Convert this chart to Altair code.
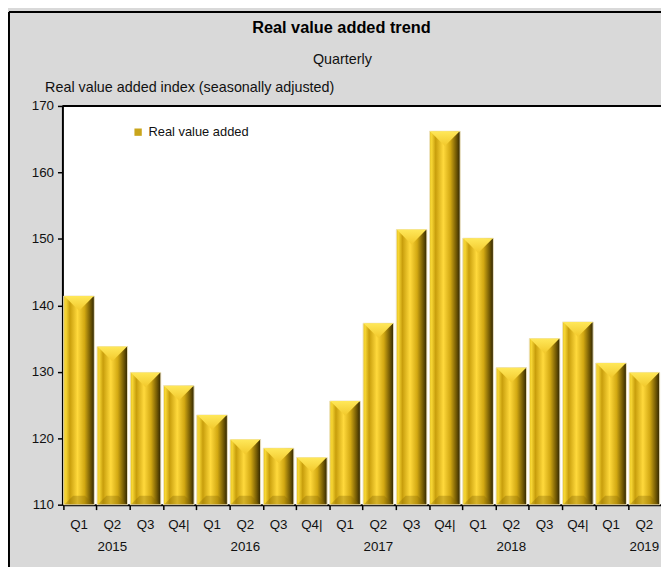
import altair as alt
import pandas as pd

# ---- data ----
quarters = ["Q1", "Q2", "Q3", "Q4|"] * 4 + ["Q1", "Q2"]
years = ["2015"] * 4 + ["2016"] * 4 + ["2017"] * 4 + ["2018"] * 4 + ["2019"] * 2
values = [141.4, 133.8, 129.9, 127.9, 123.5, 119.8, 118.5, 117.1,
          125.6, 137.3, 151.4, 166.2, 150.1, 130.6, 135.0, 137.5,
          131.3, 129.9]
year_labels = ["2015", "2016", "2017", "2018", "2019"]
y_ticks = [110, 120, 130, 140, 150, 160, 170]
series_name = "Real value added"
title_text = "Real value added trend"
subtitle_text = "Quarterly"

cats = [f"{y}-{q}" for y, q in zip(years, quarters)]
df = pd.DataFrame({"cat": cats, "value": values, "series": series_name})
ydf = pd.DataFrame({"cat": [f"{y}-Q2" for y in year_labels], "year": year_labels})
one = pd.DataFrame({"a": [0]})

FONT = "Liberation Sans Narrow, Arial Narrow, Liberation Sans, Arial, sans-serif"
W, H = 605, 403

x_enc = alt.X(
    "cat:N", sort=cats,
    scale=alt.Scale(paddingInner=0.08, paddingOuter=0.04),
    axis=alt.Axis(title=None, labelExpr="split(datum.label,'-')[1]", labelAngle=0,
                  bandPosition=0, labelOffset=0, tickSize=5, tickColor="black",
                  tickWidth=1.5, domainColor="black", domainWidth=2, labelFontSize=13.5,
                  labelPadding=8, labelColor="#111", labelFont=FONT),
)
y_enc = alt.Y(
    "value:Q",
    scale=alt.Scale(domain=[110, 170], nice=False, zero=False),
    axis=alt.Axis(values=y_ticks, title="Real value added index (seasonally adjusted)",
                  titleAngle=0, titleX=-18, titleY=-15, titleAlign="left",
                  titleBaseline="alphabetic", titleFontWeight="normal", titleFontSize=14.5,
                  titleFont=FONT, titleColor="#111", grid=False, tickSize=5,
                  tickColor="black", tickWidth=1.5, domainColor="black", domainWidth=2,
                  labelPadding=4, labelFontSize=13.5, labelFont=FONT, labelColor="#111"),
)

base = alt.Chart(df).mark_bar().encode(
    x=x_enc, y=y_enc, y2=alt.datum(110),
    color=alt.Color("series:N", scale=alt.Scale(range=["#c9a51c"]),
                    legend=alt.Legend(title=None, orient="none", legendX=70, legendY=20,
                                      symbolType="square", symbolSize=55,
                                      labelFontSize=13, labelFont=FONT, labelColor="#111",
                                      symbolStrokeWidth=0)),
)

grad = alt.Gradient(
    gradient="linear", x1=0, x2=1, y1=0, y2=0,
    stops=[
        alt.GradientStop(color="#e6c21e", offset=0),
        alt.GradientStop(color="#f7d634", offset=0.07),
        alt.GradientStop(color="#c89e0c", offset=0.2),
        alt.GradientStop(color="#ffd93c", offset=0.45),
        alt.GradientStop(color="#d2a812", offset=0.68),
        alt.GradientStop(color="#6e5604", offset=0.88),
        alt.GradientStop(color="#2e2400", offset=1),
    ],
)
bars = alt.Chart(df).mark_bar(fill=grad, stroke="#efe6c8", strokeWidth=1).encode(
    x=alt.X("cat:N", sort=cats), y="value:Q", y2=alt.datum(110)
)

top_grad = alt.Gradient(
    gradient="linear", x1=0, x2=0, y1=0, y2=1,
    stops=[alt.GradientStop(color="#ffe85a", offset=0),
           alt.GradientStop(color="#f2c82a", offset=1)],
)
tops = alt.Chart(df).mark_point(
    shape="M-1,0L1,0L0,1Z", filled=True, size=900, fill=top_grad, opacity=1, strokeWidth=0
).encode(x=alt.X("cat:N", sort=cats), y="value:Q")

bottoms = alt.Chart(df).mark_point(
    shape="M-1,0L1,0L0.4,-0.6L-0.4,-0.6Z", filled=True, size=900, fill="#8a6a04",
    opacity=0.35, strokeWidth=0
).encode(x=alt.X("cat:N", sort=cats), y=alt.datum(110))

year_text = alt.Chart(ydf).mark_text(fontSize=13.5, font=FONT, color="#111", baseline="middle").encode(
    x=alt.X("cat:N", sort=cats), y=alt.value(H + 43), text="year:N"
)

title_mark = alt.Chart(one).mark_text(
    text=title_text, fontSize=16.5, fontWeight="bold", font=FONT, color="black",
    baseline="middle", align="center"
).encode(x=alt.value(282), y=alt.value(-79))
subtitle_mark = alt.Chart(one).mark_text(
    text=subtitle_text, fontSize=14.5, font=FONT, color="#111",
    baseline="middle", align="center"
).encode(x=alt.value(283), y=alt.value(-46))

top_rule = alt.Chart(one).mark_rule(color="black", strokeWidth=2).encode(
    y=alt.datum(170), x=alt.value(0), x2=alt.value(W)
)
border_v = alt.Chart(one).mark_rule(color="black", strokeWidth=2).encode(
    x=alt.value(-54), y=alt.value(-95), y2=alt.value(H + 80)
)
border_h = alt.Chart(one).mark_rule(color="black", strokeWidth=2).encode(
    y=alt.value(-95), x=alt.value(-54), x2=alt.value(W + 20)
)

chart = alt.layer(base, bars, tops, bottoms, year_text, title_mark, subtitle_mark,
                  top_rule, border_v, border_h).properties(
    width=W, height=H,
    autosize=alt.AutoSizeParams(type="none"),
    padding={"left": 55, "top": 96, "right": 0, "bottom": 60},
).configure(background="#d9d9d9").configure_view(fill="white", stroke=None)

chart.save("out.html", embed_options={"renderer": "svg", "actions": False})
